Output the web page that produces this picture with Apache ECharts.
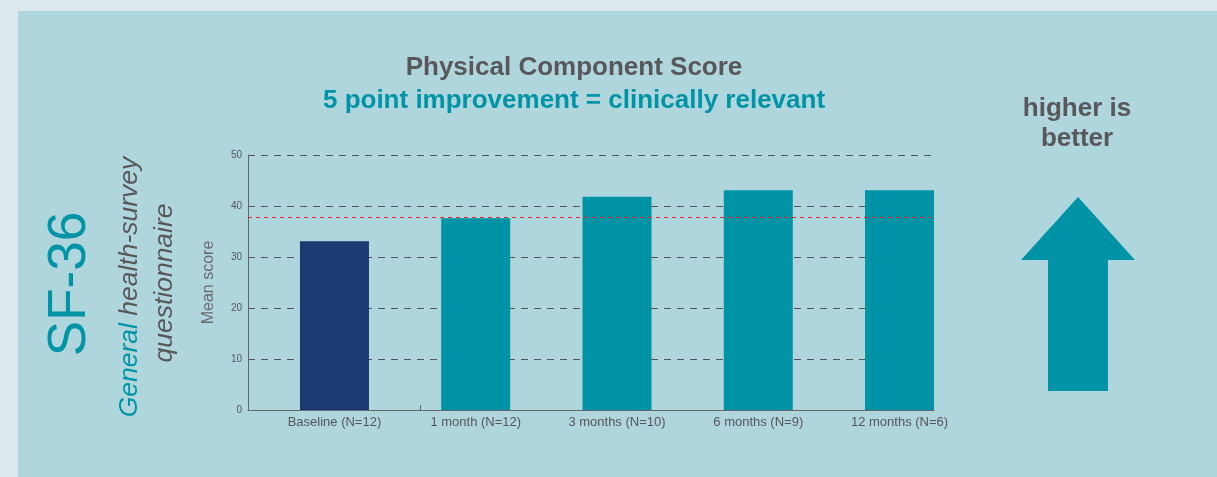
<!DOCTYPE html>
<html>
<head>
<meta charset="utf-8">
<script src="https://cdn.jsdelivr.net/npm/echarts@6/dist/echarts.min.js"></script>
<style>
  html, body { margin: 0; padding: 0; background: #dde8ee; }
  #chart { width: 1217px; height: 477px; }
</style>
</head>
<body>
<div id="chart"></div>
<script>
// data
var categories = ['Baseline (N=12)', '1 month (N=12)', '3 months (N=10)', '6 months (N=9)', '12 months (N=6)'];
var meanScores = [33.1, 37.6, 41.8, 43.1, 43.1];
var barColors = ['#1b3a72', '#0093a6', '#0093a6', '#0093a6', '#0093a6'];
var yTicks = [0, 10, 20, 30, 40, 50];
var relevantLevel = 37.75; // baseline + 5 points

var grey = '#58585b';
var teal = '#0094a6';
var fontFam = 'Liberation Sans, Arial, sans-serif';

// x range in category units, so the bars sit where they do in the picture
var xMin = -0.612;
var xMax = 4.244;

var chart = echarts.init(document.getElementById('chart'));

var barData = meanScores.map(function (v, i) {
    return { value: [i, v], itemStyle: { color: barColors[i] } };
});

var option = {
    backgroundColor: '#dde8ee',
    animation: false,
    textStyle: { fontFamily: fontFam },
    grid: { left: 248, right: 283, top: 155, bottom: 67 },
    xAxis: {
        type: 'value',
        min: xMin,
        max: xMax,
        splitLine: { show: false },
        axisLine: { show: true, onZero: false, lineStyle: { color: '#66676a', width: 1 } },
        axisTick: { show: true, inside: true, length: 5, customValues: [0.606], lineStyle: { color: '#66676a' } },
        axisLabel: {
            customValues: [0, 1, 2, 3, 4],
            formatter: function (v) { return categories[Math.round(v)]; },
            color: '#55565a',
            fontSize: 13,
            margin: 6
        }
    },
    yAxis: {
        type: 'value',
        min: yTicks[0],
        max: yTicks[yTicks.length - 1],
        interval: 10,
        name: 'Mean score',
        nameLocation: 'middle',
        nameGap: 31,
        nameTextStyle: { color: '#6a6b6e', fontSize: 16 },
        axisLine: { show: true, onZero: false, lineStyle: { color: '#66676a', width: 1 } },
        axisTick: { show: false },
        axisLabel: { color: '#55565a', fontSize: 10, margin: 6 },
        splitLine: { lineStyle: { color: '#55565a', type: [7, 6], width: 1 } }
    },
    series: [{
        type: 'bar',
        barWidth: 69,
        data: barData,
        z: 2
    }, {
        // dotted red "clinically relevant" level, drawn over the bars
        type: 'line',
        data: [[xMin, relevantLevel], [xMax - 0.02, relevantLevel]],
        symbol: 'none',
        silent: true,
        z: 10,
        lineStyle: { color: '#e3232b', type: [4, 4], width: 1 }
    }],
    graphic: [
        { type: 'rect', z: -10, shape: { x: 18, y: 11, width: 1199, height: 466 }, style: { fill: '#b0d6dd' } },
        { type: 'text', x: 574, y: 68, style: { text: 'Physical Component Score', fill: grey, font: 'bold 26px ' + fontFam, align: 'center', verticalAlign: 'middle' } },
        { type: 'text', x: 574, y: 101, style: { text: '5 point improvement = clinically relevant', fill: teal, font: 'bold 26px ' + fontFam, align: 'center', verticalAlign: 'middle' } },
        { type: 'text', x: 1077, y: 124, style: { text: 'higher is\nbetter', fill: grey, font: 'bold 26px ' + fontFam, lineHeight: 30, align: 'center', verticalAlign: 'middle' } },
        { type: 'polygon', shape: { points: [[1078, 197], [1135, 260], [1108, 260], [1108, 391], [1048, 391], [1048, 260], [1021, 260]] }, style: { fill: '#0093a6' } },
        { type: 'text', x: 70, y: 284, rotation: Math.PI / 2, style: { text: 'SF-36', fill: teal, font: '53px ' + fontFam, align: 'center', verticalAlign: 'middle' } },
        {
            type: 'text', x: 130, y: 287, rotation: Math.PI / 2,
            style: {
                text: '{a|General }{b|health-survey}',
                align: 'center', verticalAlign: 'middle',
                rich: {
                    a: { fill: teal, font: 'italic 26.5px ' + fontFam },
                    b: { fill: grey, font: 'italic 26.5px ' + fontFam }
                }
            }
        },
        { type: 'text', x: 165, y: 283, rotation: Math.PI / 2, style: { text: 'questionnaire', fill: grey, font: 'italic 26.5px ' + fontFam, align: 'center', verticalAlign: 'middle' } }
    ]
};

chart.setOption(option);
</script>
</body>
</html>
